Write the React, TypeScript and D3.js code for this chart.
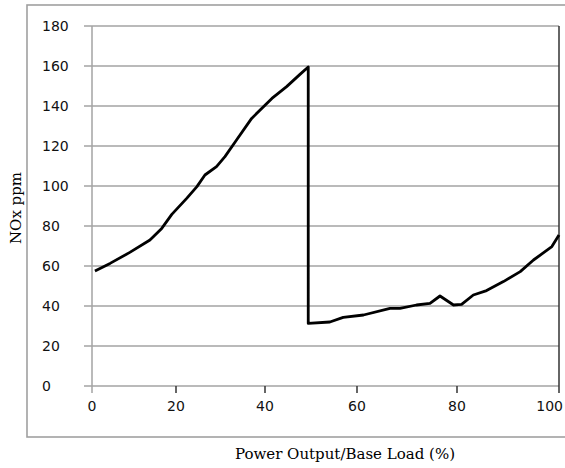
import React from "react";
import * as d3 from "d3";

const loadPct = [0.7, 4.3, 9.0, 13.8, 16.6, 19.0, 22.4, 24.7, 26.5, 29.1, 31.0, 33.6, 37.0, 41.5, 44.7, 47.6, 49.4, 49.4, 54.1, 57.0, 61.3, 66.6, 68.6, 71.9, 74.6, 76.6, 79.3, 80.9, 83.2, 85.8, 89.1, 92.4, 95.0, 98.6, 100];
const noxPpm = [57.5, 61.3, 66.8, 73, 78.8, 85.8, 93.8, 99.7, 105.5, 109.7, 114.7, 123, 133.8, 143.8, 149.7, 155.8, 159.5, 31.3, 32.0, 34.3, 35.5, 38.8, 38.8, 40.5, 41.3, 45, 40.5, 40.8, 45.5, 47.7, 52.2, 57.2, 63, 69.7, 75.5];
const xTicks = [0, 20, 40, 60, 80, 100];
const yTicks = [0, 20, 40, 60, 80, 100, 120, 140, 160, 180];
const xTitle = "Power Output/Base Load (%)";
const yTitle = "NOx ppm";

export default function App() {
  const W = 565, H = 468;
  const left = 92, right = 559, top = 26, bottom = 386;
  // category-like axis: tick positions are not evenly spaced in the reference
  const x = d3.scaleLinear().domain(xTicks).range([92, 176, 265, 357, 457, 559]);
  const y = d3.scaleLinear().domain([0, 180]).range([bottom, top]);
  const pts: [number, number][] = loadPct.map((v, i) => [v, noxPpm[i]]);
  const line = d3.line<[number, number]>().x(d => x(d[0])).y(d => y(d[1]));
  const grid = "#a3a3a3";
  return (
    <svg width={W} height={H} style={{ position: "absolute", left: 0, top: 0 }}>
      <rect x={0} y={0} width={W} height={H} fill="#fff" />
      <rect x={27} y={5} width={620} height={432} fill="none" stroke="#a0a0a0" strokeWidth={1.6} />
      {yTicks.map(t => (
        <line key={"g" + t} x1={84} x2={right} y1={y(t)} y2={y(t)} stroke={grid} strokeWidth={1.5} />
      ))}
      <line x1={left} x2={left} y1={top} y2={bottom + 7} stroke={grid} strokeWidth={1.5} />
      <line x1={right} x2={right} y1={top} y2={bottom + 7} stroke="#333" strokeWidth={1.5} />
      {xTicks.slice(1, -1).map(t => (
        <line key={"xt" + t} x1={x(t)} x2={x(t)} y1={bottom} y2={bottom + 7} stroke="#333" strokeWidth={1.5} />
      ))}
      {yTicks.map(t => (
        <text key={"yl" + t} x={42} y={y(t) + 5} fontFamily="DejaVu Sans" fontSize={14} fill="#111">{t}</text>
      ))}
      {xTicks.map((t, i) => {
        const last = i === xTicks.length - 1;
        return (
          <text key={"xl" + t} x={last ? 563 : x(t)} y={411} textAnchor={last ? "end" : "middle"} fontFamily="DejaVu Sans" fontSize={14} fill="#111">{t}</text>
        );
      })}
      <path d={line(pts) || ""} fill="none" stroke="#000" strokeWidth={2.8} strokeLinejoin="round" />
      <text x={345} y={459} textAnchor="middle" fontFamily="DejaVu Serif" fontSize={15} fill="#000">{xTitle}</text>
      <text transform={`translate(21,208) rotate(-90)`} textAnchor="middle" fontFamily="DejaVu Serif" fontSize={15} fill="#000">{yTitle}</text>
    </svg>
  );
}
